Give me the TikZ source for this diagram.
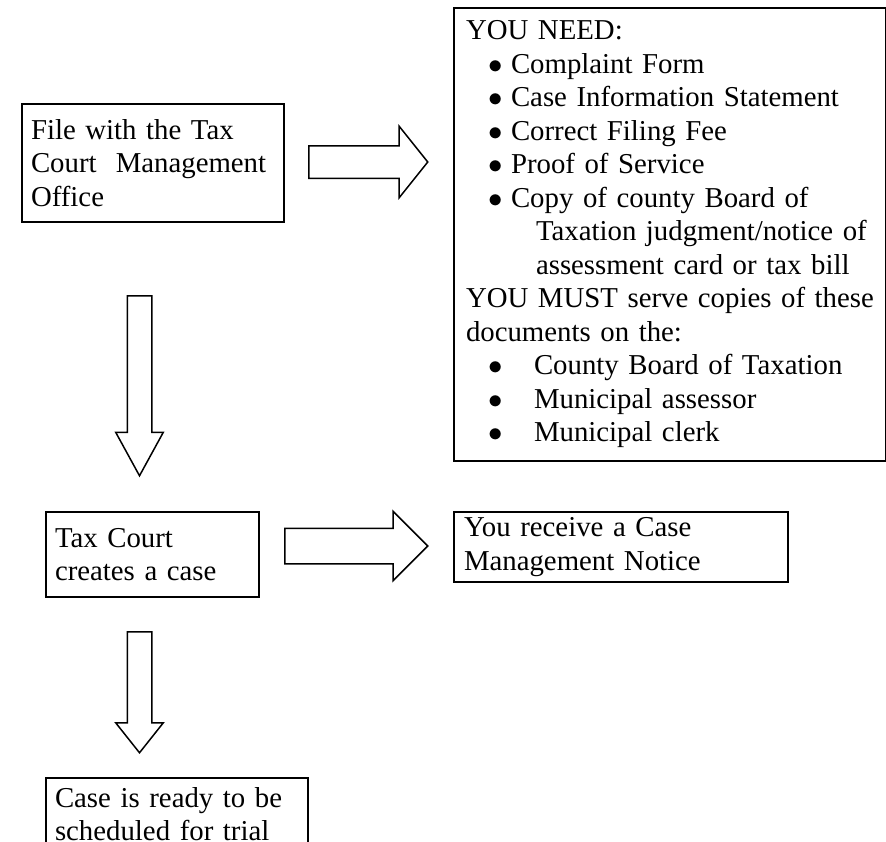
\documentclass[tikz,border=0pt]{standalone}
\usepackage{fontspec}
\setmainfont{Liberation Serif}
\usetikzlibrary{shapes,shapes.arrows}

\begin{document}
\begin{tikzpicture}[x=0.5pt,y=-0.5pt,
        box/.style={draw, line width=1pt, anchor=north west, align=left, inner ysep=0pt,
            font=\fontsize{14.4pt}{16.75pt}\selectfont},
        blockarrow/.style={single arrow, draw, line width=0.75pt, inner xsep=0pt,
            single arrow head indent=0pt, anchor=tail}]
                \useasboundingbox (0,0) rectangle (886,841);
                \clip (0,0) rectangle (886,841);
                \node[box, inner xsep=4.5pt, text width=122pt, minimum width=131pt, minimum height=59pt]
                    (file) at (21,103) {File with the Tax\\Court\ \ Management\\Office};
                \node[box, inner xsep=6pt, text width=204pt, minimum width=216pt, minimum height=226.5pt]
                    (need) at (453,7) {YOU NEED:\\
                    \hspace*{11pt}\makebox[11.5pt][l]{$\bullet$}Complaint Form\\
                    \hspace*{11pt}\makebox[11.5pt][l]{$\bullet$}Case Information Statement\\
                    \hspace*{11pt}\makebox[11.5pt][l]{$\bullet$}Correct Filing Fee\\
                    \hspace*{11pt}\makebox[11.5pt][l]{$\bullet$}Proof of Service\\
                    \hspace*{11pt}\makebox[11.5pt][l]{$\bullet$}Copy of county Board of\\
                    \hspace*{35pt}Taxation judgment/notice~of\\
                    \hspace*{35pt}assessment card or tax bill\\
                    YOU~MUST~serve~copies~of~these\\
                    documents on the:\\
                    \hspace*{11pt}\makebox[23pt][l]{$\bullet$}County Board of Taxation\\
                    \hspace*{11pt}\makebox[23pt][l]{$\bullet$}Municipal assessor\\
                    \hspace*{11pt}\makebox[23pt][l]{$\bullet$}Municipal clerk};
                \node[box, inner xsep=4.5pt, text width=97.5pt, minimum width=106.5pt, minimum height=42.5pt]
                    (case) at (45,511) {Tax Court\\creates a case};
                \node[box, inner xsep=5pt, text width=157pt, minimum width=167pt, minimum height=35pt]
                    (notice) at (453,511) {You receive a Case\\Management Notice};
                \node[box, inner xsep=4.5pt, text width=122pt, minimum width=131pt, minimum height=36pt]
                    (trial) at (45,777) {Case is ready to be\\scheduled for trial};
                % block arrows
                \node[blockarrow, inner ysep=7.75pt, single arrow head extend=9.75pt,
                    minimum height=59.5pt, single arrow tip angle=102.7] (a1) at (308,162) {};
                \node[blockarrow, inner ysep=8.5pt, single arrow head extend=8.5pt,
                    minimum height=71.5pt, single arrow tip angle=90] (a2) at (284,546) {};
                \node[blockarrow, rotate=-90, inner ysep=5.75pt, single arrow head extend=5.75pt,
                    minimum height=90pt, single arrow tip angle=57.4] (a3) at (139.5,295) {};
                \node[blockarrow, rotate=-90, inner ysep=5.75pt, single arrow head extend=5.75pt,
                    minimum height=60.5pt, single arrow tip angle=76.9] (a4) at (139.5,631) {};
            \end{tikzpicture}
\end{document}
